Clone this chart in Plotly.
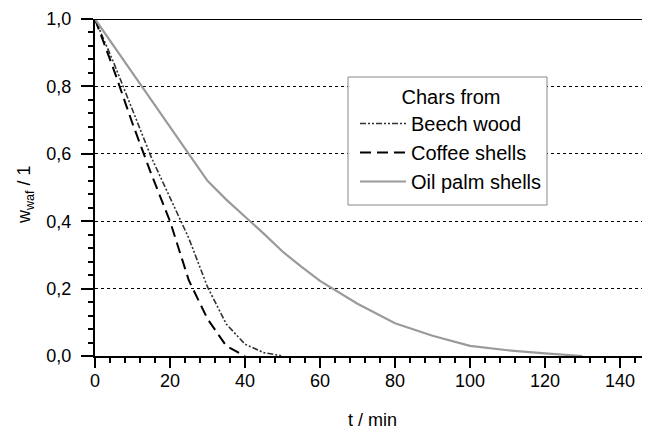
import plotly.graph_objects as go

# ---- data ----
beech_t = [0, 5, 10, 15, 20, 25, 30, 35, 40, 45, 50]
beech_w = [1.0, 0.87, 0.73, 0.59, 0.47, 0.35, 0.205, 0.095, 0.035, 0.01, 0.0]

coffee_t = [0, 5, 10, 15, 20, 25, 30, 35, 40]
coffee_w = [1.0, 0.85, 0.69, 0.54, 0.40, 0.225, 0.11, 0.03, 0.0]

palm_t = [0, 5, 10, 15, 20, 25, 30, 35, 40, 45, 50, 55, 60, 65, 70, 80, 90, 100, 110, 120, 130]
palm_w = [1.0, 0.92, 0.84, 0.76, 0.68, 0.60, 0.52, 0.464, 0.414, 0.363, 0.31, 0.265, 0.223,
          0.19, 0.155, 0.097, 0.06, 0.03, 0.017, 0.008, 0.0]

x_ticks = [0, 20, 40, 60, 80, 100, 120, 140]
y_ticks = [0.0, 0.2, 0.4, 0.6, 0.8, 1.0]

FONT = "Liberation Sans, Arial, sans-serif"

fig = go.Figure()
fig.add_trace(go.Scatter(x=beech_t, y=beech_w, mode="lines", name="Beech wood",
                         line=dict(color="#333333", width=1.6,
                                   dash="6px,2px,2px,2px,2px,2px")))
fig.add_trace(go.Scatter(x=coffee_t, y=coffee_w, mode="lines", name="Coffee shells",
                         line=dict(color="#000000", width=2, dash="11px,6px")))
fig.add_trace(go.Scatter(x=palm_t, y=palm_w, mode="lines", name="Oil palm shells",
                         line=dict(color="#9a9a9a", width=2.2)))

# page has an 8px body margin: the figure occupies page x 8..650, y 8..439
OFF = 8
W, H = 650 - OFF, 439 - OFF
L, R, T, B = 95 - OFF, 0, 19 - OFF, 439 - 356
pw, ph = W - L - R, H - T - B

def px_x(p):  # page pixel -> paper x
    return (p - OFF - L) / pw

def px_y(p):  # page pixel -> paper y
    return (H - B - (p - OFF)) / ph

# legend box
fig.add_shape(type="rect", xref="paper", yref="paper",
              x0=px_x(348), x1=px_x(547), y0=px_y(205), y1=px_y(77),
              line=dict(color="#888888", width=1), fillcolor="white", layer="above")
# top border line
fig.add_shape(type="line", xref="paper", yref="y", x0=-0.02, x1=1, y0=1, y1=1,
              line=dict(color="black", width=2), layer="above")

# y-axis title
fig.add_annotation(text="w<sub>waf</sub> / 1", xref="paper", yref="paper",
                   x=px_x(25), y=px_y(195), xanchor="center", yanchor="middle",
                   textangle=-90, showarrow=False, font=dict(size=18))

fig.update_layout(
    width=W, height=H,
    margin=dict(l=L, r=R, t=T, b=B, autoexpand=False),
    paper_bgcolor="white", plot_bgcolor="white",
    separators=",.",
    font=dict(family=FONT, size=18, color="black"),
    showlegend=True,
    legend=dict(
        x=px_x(355), y=px_y(78), xanchor="left", yanchor="top",
        bgcolor="rgba(0,0,0,0)", borderwidth=0,
        title=dict(text="Chars from", side="top center", font=dict(size=20)),
        font=dict(size=20), itemwidth=46, tracegroupgap=0,
    ),
    xaxis=dict(
        range=[0, 148], tickvals=x_ticks, ticks="outside", ticklen=10, tickwidth=2,
        tickcolor="black", showline=True, linewidth=2, linecolor="black",
        showgrid=False, zeroline=False, tickfont=dict(size=18), automargin=False,
        ticklabelstandoff=-3,
        minor=dict(dtick=4, ticks="outside", ticklen=5, tickwidth=2, tickcolor="black",
                   showgrid=False),
        title=dict(text="t / min", font=dict(size=18), standoff=24),
    ),
    yaxis=dict(
        range=[0, 1.0], tickvals=y_ticks, tickformat=".1f", ticks="outside", ticklen=12,
        tickwidth=2, tickcolor="black", showline=True, linewidth=2, linecolor="black",
        showgrid=True, gridcolor="black", griddash="dot", gridwidth=1, zeroline=False,
        tickfont=dict(size=18), automargin=False, ticklabelstandoff=6,
        minor=dict(dtick=0.04, ticks="outside", ticklen=5, tickwidth=2, tickcolor="black",
                   showgrid=False),
    ),
)

fig.write_html("out.html")
